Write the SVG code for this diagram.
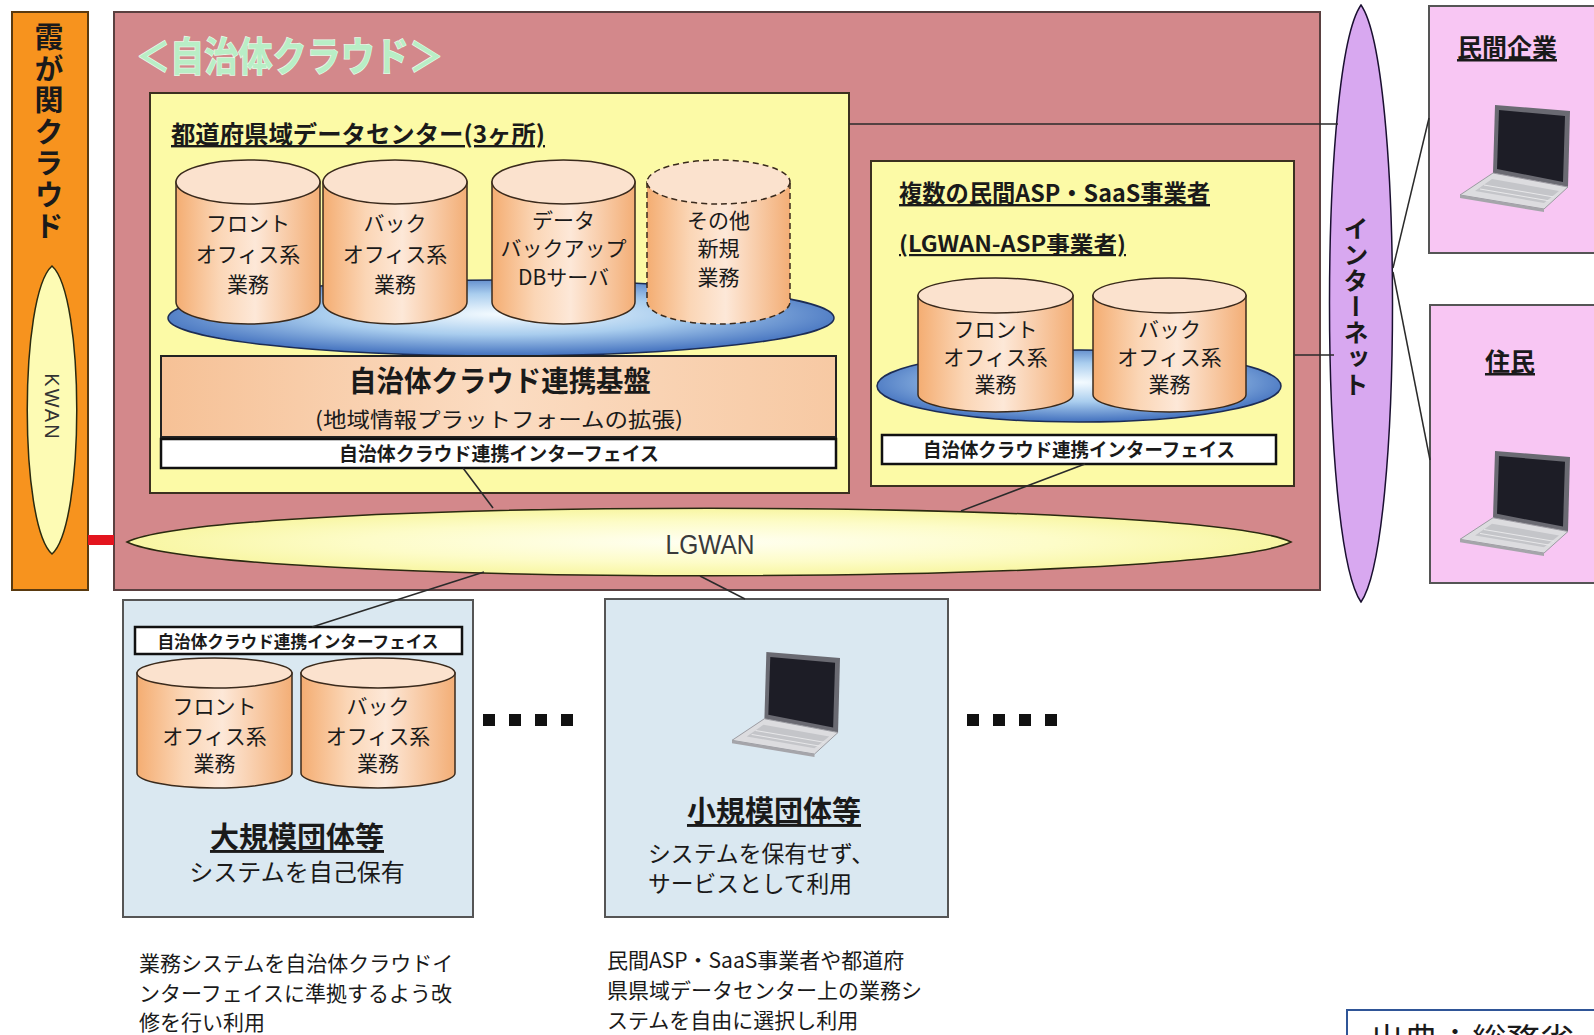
<svg xmlns="http://www.w3.org/2000/svg" width="1594" height="1035" viewBox="0 0 1594 1035">
<defs>
  <style>
    .jp{font-family:"Noto Sans CJK JP","Noto Sans CJK SC",sans-serif;fill:#1a1a1a}
    .lat{font-family:"Liberation Sans",Arial,sans-serif}
    .b{font-weight:700}
    .u{text-decoration:underline}
    .c{text-anchor:middle}
    .ct{font-size:21px}
    .cyl{fill:url(#cylGrad);stroke:#3a2a1c;stroke-width:1.5}
    .cyltop{fill:#fbe2ce;stroke:#3a2a1c;stroke-width:1.5}
    .dash{stroke-dasharray:6 4}
    .ybox{fill:#fcfaa6;stroke:#3b3020;stroke-width:2}
    .ibar{fill:#ffffff;stroke:#111111;stroke-width:2.5}
    .conn{stroke:#2a2a2a;stroke-width:1.5;fill:none}
    .disc{fill:url(#discGrad);stroke:#1c2c55;stroke-width:1.5}
    .bbox{fill:#dae8f1;stroke:#555555;stroke-width:2}
    .pbox{fill:#f8c6f3;stroke:#555555;stroke-width:2}
    .dots{fill:#111111}
    .vert{writing-mode:vertical-rl}
    .title{fill:#b9eec6;stroke:#e6fae8;stroke-width:1.5;paint-order:stroke}
  </style>
  <linearGradient id="cylGrad" x1="0" y1="0" x2="1" y2="0">
    <stop offset="0" stop-color="#f4ad72"/>
    <stop offset="0.3" stop-color="#fbd6b6"/>
    <stop offset="0.55" stop-color="#fde8d8"/>
    <stop offset="1" stop-color="#f3ae76"/>
  </linearGradient>
  <radialGradient id="discGrad" cx="0.5" cy="0.45" r="0.6">
    <stop offset="0" stop-color="#f4fbff"/>
    <stop offset="0.45" stop-color="#a9cdee"/>
    <stop offset="1" stop-color="#2f5fb5"/>
  </radialGradient>
  <linearGradient id="platGrad" x1="0" y1="0" x2="1" y2="0">
    <stop offset="0" stop-color="#f6c196"/>
    <stop offset="0.5" stop-color="#fbdcc2"/>
    <stop offset="1" stop-color="#f7c9a3"/>
  </linearGradient>
  <radialGradient id="lgwanGrad" cx="0.5" cy="0.5" r="0.5">
    <stop offset="0" stop-color="#fffff2"/>
    <stop offset="0.6" stop-color="#fdfcc8"/>
    <stop offset="1" stop-color="#f8f6a2"/>
  </radialGradient>
  <symbol id="laptop" viewBox="0 0 110 108" preserveAspectRatio="none">
    <polygon points="35,0 110,6 108,82 33,68" fill="#6a6a72"/>
    <polygon points="39,5 105,11 103,77 37,64" fill="#1d1d26"/>
    <polygon points="33,68 108,82 84,104 0,90" fill="#dcdcdf" stroke="#9a9aa0" stroke-width="1"/>
    <polygon points="32,74 99,86 84,98 15,86" fill="#c4c5c9"/>
    <path d="M24,80 L94,92 M20,84 L90,96" stroke="#e8e8ea" stroke-width="1"/>
    <polygon points="0,90 84,104 84,107 0,93" fill="#a5a5aa"/>
  </symbol>
</defs>

<rect width="1594" height="1035" fill="#ffffff"/>

<!-- Kasumigaseki cloud bar with KWAN -->
<g id="kasumigaseki">
  <rect x="12" y="12" width="76" height="578" fill="#f7931e" stroke="#5a3a10" stroke-width="2"/>
  <text class="jp b vert c" x="49" y="133" font-size="29" letter-spacing="2.5">霞が関クラウド</text>
  <path d="M52,266 C85,295 85,525 52,554 C19,525 19,295 52,266Z" fill="#fdfbb4" stroke="#2a2a10" stroke-width="1.5"/>
  <text class="lat vert c" x="52" y="407" font-size="20" letter-spacing="2" fill="#333">KWAN</text>
</g>

<!-- Municipal cloud area -->
<g id="jichitai-cloud">
  <rect x="114" y="12" width="1206" height="578" fill="#d3888b" stroke="#5a4040" stroke-width="2"/>
  <text class="jp b title" x="136" y="71" font-size="40" textLength="307" lengthAdjust="spacingAndGlyphs">＜自治体クラウド＞</text>
</g>

<!-- Prefectural data center -->
<g id="datacenter">
  <rect class="ybox" x="150" y="93" width="699" height="400"/>
  <text class="jp b u" x="171" y="143" font-size="24" textLength="374" lengthAdjust="spacingAndGlyphs">都道府県域データセンター(3ヶ所)</text>
  <ellipse class="disc" cx="501" cy="318" rx="333" ry="38"/>
  <g id="dc-front">
    <path class="cyl" d="M176,182 V302 A72,22 0 0 0 320,302 V182 Z"/>
    <ellipse class="cyltop" cx="248" cy="182" rx="72" ry="22"/>
    <text class="jp c ct" x="248" y="231">フロント</text>
    <text class="jp c ct" x="248" y="262">オフィス系</text>
    <text class="jp c ct" x="248" y="292">業務</text>
  </g>
  <g id="dc-back">
    <path class="cyl" d="M323,182 V302 A72,22 0 0 0 467,302 V182 Z"/>
    <ellipse class="cyltop" cx="395" cy="182" rx="72" ry="22"/>
    <text class="jp c ct" x="395" y="231">バック</text>
    <text class="jp c ct" x="395" y="262">オフィス系</text>
    <text class="jp c ct" x="395" y="292">業務</text>
  </g>
  <g id="dc-backup">
    <path class="cyl" d="M492,182 V302 A71.5,22 0 0 0 635,302 V182 Z"/>
    <ellipse class="cyltop" cx="563.5" cy="182" rx="71.5" ry="22"/>
    <text class="jp c ct" x="563.5" y="228">データ</text>
    <text class="jp c ct" x="563.5" y="256">バックアップ</text>
    <text class="jp c ct" x="563.5" y="285">DBサーバ</text>
  </g>
  <g id="dc-other">
    <path class="cyl dash" d="M647,182 V302 A71.5,22 0 0 0 790,302 V182 Z"/>
    <ellipse class="cyltop dash" cx="718.5" cy="182" rx="71.5" ry="22"/>
    <text class="jp c ct" x="718.5" y="228">その他</text>
    <text class="jp c ct" x="718.5" y="256">新規</text>
    <text class="jp c ct" x="718.5" y="285">業務</text>
  </g>
  <rect x="161" y="356" width="675" height="81" fill="url(#platGrad)" stroke="#222" stroke-width="2"/>
  <text class="jp b c" x="500" y="392" font-size="29" textLength="302" lengthAdjust="spacingAndGlyphs">自治体クラウド連携基盤</text>
  <text class="jp c" x="499" y="427" font-size="21" textLength="368" lengthAdjust="spacingAndGlyphs">(地域情報プラットフォームの拡張)</text>
  <rect class="ibar" x="161" y="439" width="675" height="29"/>
  <text class="jp b c" x="499" y="461" font-size="19" textLength="320" lengthAdjust="spacingAndGlyphs">自治体クラウド連携インターフェイス</text>
</g>

<!-- Private ASP / SaaS providers -->
<g id="asp-providers">
  <rect class="ybox" x="871" y="161" width="423" height="325"/>
  <text class="jp b u" x="899" y="202" font-size="24" textLength="311" lengthAdjust="spacingAndGlyphs">複数の民間ASP・SaaS事業者</text>
  <text class="jp b u" x="899" y="252" font-size="22" textLength="227" lengthAdjust="spacingAndGlyphs">(LGWAN-ASP事業者)</text>
  <ellipse class="disc" cx="1079" cy="386" rx="202" ry="36"/>
  <g id="asp-front">
    <path class="cyl" d="M918,295.5 V394.5 A77.5,17.5 0 0 0 1073,394.5 V295.5 Z"/>
    <ellipse class="cyltop" cx="995.5" cy="295.5" rx="77.5" ry="17.5"/>
    <text class="jp c ct" x="995.5" y="337">フロント</text>
    <text class="jp c ct" x="995.5" y="365">オフィス系</text>
    <text class="jp c ct" x="995.5" y="392">業務</text>
  </g>
  <g id="asp-back">
    <path class="cyl" d="M1093,295.5 V394.5 A76.5,17.5 0 0 0 1246,394.5 V295.5 Z"/>
    <ellipse class="cyltop" cx="1169.5" cy="295.5" rx="76.5" ry="17.5"/>
    <text class="jp c ct" x="1169.5" y="337">バック</text>
    <text class="jp c ct" x="1169.5" y="365">オフィス系</text>
    <text class="jp c ct" x="1169.5" y="392">業務</text>
  </g>
  <rect class="ibar" x="882" y="435" width="394" height="29"/>
  <text class="jp b c" x="1079" y="457" font-size="19" textLength="312" lengthAdjust="spacingAndGlyphs">自治体クラウド連携インターフェイス</text>
</g>

<!-- LGWAN network -->
<g id="lgwan">
  <path d="M127,542 C220,497 1198,497 1291,542 C1198,587 220,587 127,542Z" fill="url(#lgwanGrad)" stroke="#2a2a10" stroke-width="1.5"/>
  <text class="lat c" x="710" y="554" font-size="27" textLength="89" lengthAdjust="spacingAndGlyphs" fill="#3a3a3a">LGWAN</text>
</g>

<!-- Internet -->
<g id="internet">
  <path d="M1361,5 C1403,65 1403,542 1361,602 C1319,542 1319,65 1361,5Z" fill="#d8a8f0" stroke="#1a1030" stroke-width="1.5"/>
  <text class="jp b vert c" x="1356" y="307" font-size="25" letter-spacing="1">インターネット</text>
</g>

<!-- Private companies -->
<g id="companies">
  <rect class="pbox" x="1429" y="6" width="180" height="247"/>
  <text class="jp b u c" x="1507" y="57" font-size="25">民間企業</text>
  <use href="#laptop" x="1460" y="105" width="110" height="108"/>
</g>

<!-- Residents -->
<g id="residents">
  <rect class="pbox" x="1430" y="305" width="180" height="278"/>
  <text class="jp b u c" x="1510" y="371" font-size="25">住民</text>
  <use href="#laptop" x="1460" y="451" width="110" height="106"/>
</g>

<!-- Large municipalities -->
<g id="large-municipality">
  <rect class="bbox" x="123" y="600" width="350" height="317"/>
  <rect class="ibar" x="135" y="627" width="327" height="27"/>
  <text class="jp b c" x="298" y="648" font-size="17" textLength="281" lengthAdjust="spacingAndGlyphs">自治体クラウド連携インターフェイス</text>
  <path class="cyl" d="M137,673 V773 A77.5,15 0 0 0 292,773 V673 Z"/>
  <ellipse class="cyltop" cx="214.5" cy="673" rx="77.5" ry="15"/>
  <text class="jp c ct" x="214.5" y="714">フロント</text>
  <text class="jp c ct" x="214.5" y="744">オフィス系</text>
  <text class="jp c ct" x="214.5" y="771">業務</text>
  <path class="cyl" d="M301,673 V773 A77,15 0 0 0 455,773 V673 Z"/>
  <ellipse class="cyltop" cx="378" cy="673" rx="77" ry="15"/>
  <text class="jp c ct" x="378" y="714">バック</text>
  <text class="jp c ct" x="378" y="744">オフィス系</text>
  <text class="jp c ct" x="378" y="771">業務</text>
  <text class="jp b u c" x="297" y="848" font-size="29">大規模団体等</text>
  <text class="jp c" x="297" y="881" font-size="24">システムを自己保有</text>
</g>

<!-- Small municipalities -->
<g id="small-municipality">
  <rect class="bbox" x="605" y="599" width="343" height="318"/>
  <use href="#laptop" x="732" y="652" width="108" height="106"/>
  <text class="jp b u c" x="774" y="822" font-size="29">小規模団体等</text>
  <text class="jp" x="648" y="862" font-size="23" textLength="226" lengthAdjust="spacingAndGlyphs">システムを保有せず、</text>
  <text class="jp" x="648" y="892" font-size="23" textLength="204" lengthAdjust="spacingAndGlyphs">サービスとして利用</text>
</g>

<!-- Continuation marks -->
<g id="ellipsis-marks">
  <rect class="dots" x="483" y="714" width="12" height="12"/>
  <rect class="dots" x="509" y="714" width="12" height="12"/>
  <rect class="dots" x="535" y="714" width="12" height="12"/>
  <rect class="dots" x="561" y="714" width="12" height="12"/>
  <rect class="dots" x="967" y="714" width="12" height="12"/>
  <rect class="dots" x="993" y="714" width="12" height="12"/>
  <rect class="dots" x="1019" y="714" width="12" height="12"/>
  <rect class="dots" x="1045" y="714" width="12" height="12"/>
</g>

<!-- Notes -->
<g id="notes">
  <text class="jp" font-size="21">
    <tspan x="139" y="971">業務システムを自治体クラウドイ</tspan>
    <tspan x="139" y="1001">ンターフェイスに準拠するよう改</tspan>
    <tspan x="139" y="1030">修を行い利用</tspan>
  </text>
  <text class="jp" font-size="21">
    <tspan x="607" y="968">民間ASP・SaaS事業者や都道府</tspan>
    <tspan x="607" y="998">県県域データセンター上の業務シ</tspan>
    <tspan x="607" y="1028">ステムを自由に選択し利用</tspan>
  </text>
</g>

<!-- Source label -->
<g id="source">
  <rect x="1347" y="1010" width="260" height="40" fill="#ffffff" stroke="#2f5597" stroke-width="2"/>
  <text class="jp" x="1370" y="1053" font-size="34">出典：総務省</text>
</g>

<!-- Links between nodes -->
<g id="connectors">
  <rect x="88" y="535" width="26" height="10" fill="#e3141e"/>
  <line class="conn" x1="849" y1="124" x2="1338" y2="124"/>
  <line class="conn" x1="1294" y1="355" x2="1334" y2="355"/>
  <line class="conn" x1="1429" y1="118" x2="1393" y2="268"/>
  <line class="conn" x1="1393" y1="272" x2="1430" y2="460"/>
  <line class="conn" x1="463" y1="468" x2="493" y2="508"/>
  <line class="conn" x1="1085" y1="464" x2="961" y2="511"/>
  <line class="conn" x1="484" y1="572" x2="312" y2="627"/>
  <line class="conn" x1="700" y1="576" x2="745" y2="599"/>
</g>
</svg>
